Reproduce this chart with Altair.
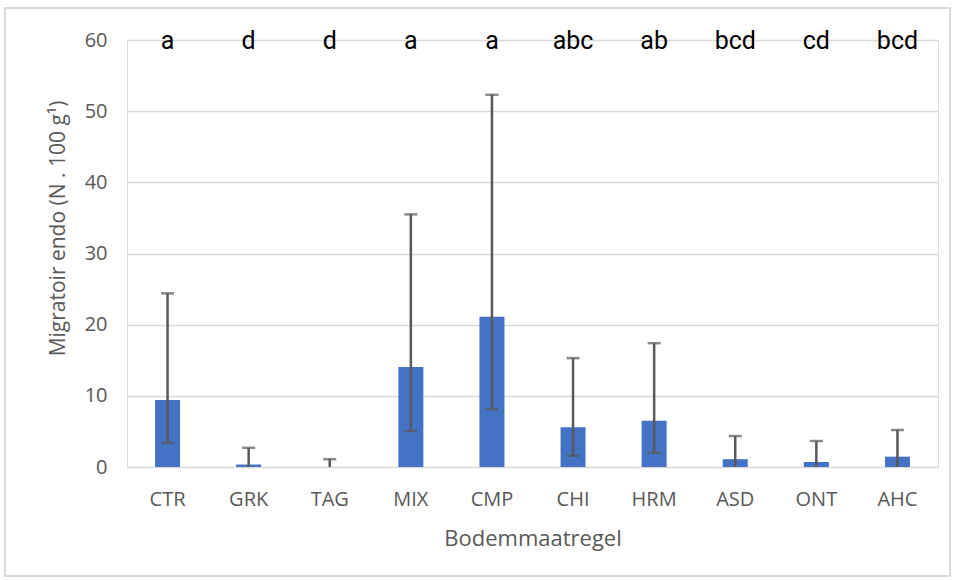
import altair as alt
import pandas as pd

categories = ["CTR", "GRK", "TAG", "MIX", "CMP", "CHI", "HRM", "ASD", "ONT", "AHC"]
means = [9.4, 0.35, 0.0, 14.05, 21.1, 5.6, 6.5, 1.1, 0.7, 1.45]
upper = [24.4, 2.7, 1.1, 35.5, 52.3, 15.3, 17.4, 4.35, 3.65, 5.2]
lower = [3.4, 0.0, 0.0, 5.05, 8.1, 1.6, 2.0, 0.0, 0.0, 0.0]
letters = ["a", "d", "d", "a", "a", "abc", "ab", "bcd", "cd", "bcd"]
letter_y = 60

df = pd.DataFrame({
    "cat": categories, "mean": means, "upper": upper, "lower": lower,
    "letter": letters, "ly": [letter_y] * len(categories),
})

GRAY = "#595959"
FONT = "Open Sans"

x = alt.X("cat:N", sort=categories, title="Bodemmaatregel",
          scale=alt.Scale(paddingInner=0, paddingOuter=0),
          axis=alt.Axis(labelAngle=0, domain=False, ticks=False, labelPadding=22,
                        titlePadding=19, labelFont=FONT, labelFontSize=20,
                        labelColor=GRAY, titleFont=FONT, titleFontSize=22,
                        titleColor=GRAY, titleFontWeight="normal"))

yscale = alt.Scale(domain=[0, 60], nice=False)

bars = alt.Chart(df).mark_bar(size=25, color="#4472C4").encode(
    x=x,
    y=alt.Y("mean:Q", scale=yscale,
            title="Migratoir endo (N . 100 g¹)",
            axis=alt.Axis(values=[0, 10, 20, 30, 40, 50, 60], domain=False, ticks=False,
                          grid=True, gridColor="#d9d9d9", gridWidth=1.5,
                          labelPadding=20, labelFont=FONT, labelFontSize=20,
                          labelColor=GRAY, titleFont=FONT, titleFontSize=21,
                          titleColor=GRAY, titleFontWeight="normal",
                          titleX=-69, titleY=188, titleBaseline="middle",
                          titleAlign="center")),
)

rules = alt.Chart(df).mark_rule(color=GRAY, strokeWidth=2.5).encode(
    x=alt.X("cat:N", sort=categories),
    y=alt.Y("lower:Q", scale=yscale),
    y2="upper:Q",
)

caps_up = alt.Chart(df).mark_tick(color=GRAY, thickness=2.5, size=13, orient="horizontal").encode(
    x=alt.X("cat:N", sort=categories),
    y=alt.Y("upper:Q", scale=yscale),
)

caps_low = alt.Chart(df).transform_filter("datum.lower > 0").mark_tick(
    color=GRAY, thickness=2.5, size=13, orient="horizontal").encode(
    x=alt.X("cat:N", sort=categories),
    y=alt.Y("lower:Q", scale=yscale),
)

text = alt.Chart(df).mark_text(font="Roboto", fontSize=25, color="black",
                                baseline="alphabetic", dy=9).encode(
    x=alt.X("cat:N", sort=categories),
    y=alt.Y("ly:Q", scale=yscale),
    text="letter:N",
)

border = alt.Chart(df).mark_rect(fill=None, stroke="#d9d9d9", strokeWidth=1.5).encode(
    x=alt.value(-122), x2=alt.value(823), y=alt.value(-32), y2=alt.value(536),
)

chart = alt.layer(border, bars, rules, caps_up, caps_low, text).properties(
    width=811, height=427,
    autosize=alt.AutoSizeParams(type="none"),
    padding={"left": 127, "top": 40, "right": 17, "bottom": 113},
).configure_view(stroke=None).configure(background="white")

chart.save("out.html", embed_options={"renderer": "svg", "actions": False})
